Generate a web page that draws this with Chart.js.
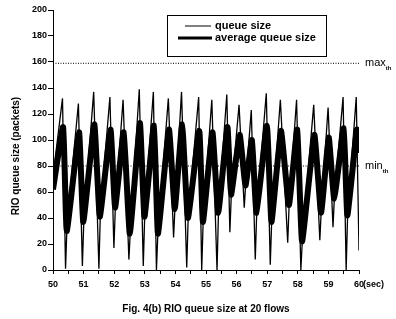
<!DOCTYPE html>
<html>
<head>
<meta charset="utf-8">
<script src="https://cdn.jsdelivr.net/npm/chart.js@4"></script>
<style>
  html, body { margin: 0; padding: 0; background: #fff; }
  #wrap { width: 396px; height: 319px; }
</style>
</head>
<body>
<div id="wrap"><canvas id="queueChart" width="396" height="319"></canvas></div>
<script>
// instantaneous queue (thin line)
const queueTime = [50.00, 50.31, 50.41, 50.46, 50.83, 50.96, 51.01, 51.33, 51.50, 51.55,
    51.86, 51.99, 52.04, 52.29, 52.48, 52.53, 52.82, 52.95, 53.00, 53.28, 53.38, 53.43,
    53.77, 53.94, 53.99, 54.20, 54.37, 54.42, 54.76, 54.86, 54.91, 55.19, 55.36, 55.41,
    55.68, 55.78, 55.83, 56.08, 56.25, 56.30, 56.48, 56.61, 56.66, 56.97, 57.10, 57.15,
    57.43, 57.67, 57.72, 57.96, 58.10, 58.15, 58.52, 58.72, 58.77, 58.99, 59.15, 59.20,
    59.48, 59.58, 59.63, 59.91, 60.00];
const queueSize = [72, 132, 1, 36, 128, 3, 40, 137, 1, 46,
    133, 17, 50, 131, 8, 32, 139, 3, 44, 137, 0, 30,
    132, 25, 50, 137, 2, 42, 133, 0, 40, 131, 0, 46,
    135, 29, 60, 127, 48, 68, 123, 8, 46, 136, 4, 40,
    131, 21, 52, 131, 0, 24, 127, 23, 48, 125, 33, 58,
    133, 0, 44, 133, 15];

// average queue (thick line)
const avgTime = [50.00, 50.33, 50.45, 50.85, 50.99, 51.35, 51.53, 51.88, 52.03, 52.31, 52.51,
    52.84, 52.99, 53.30, 53.43, 53.79, 53.98, 54.22, 54.41, 54.78, 54.90, 55.21, 55.40,
    55.70, 55.82, 56.10, 56.29, 56.50, 56.65, 56.99, 57.14, 57.45, 57.71, 57.98, 58.14,
    58.54, 58.76, 59.01, 59.19, 59.50, 59.62, 59.93, 60.00];
const avgSize = [62, 110, 30, 106, 37, 112, 41, 108, 48, 106, 28,
    113, 41, 111, 28, 108, 47, 112, 40, 107, 37, 106, 44,
    110, 58, 104, 65, 100, 44, 111, 37, 107, 50, 108, 22,
    104, 44, 102, 55, 109, 42, 108, 90];

const thresholds = [159, 80];       // max_th, min_th
const thresholdNames = ['max', 'min'];
const yTicks = [0, 20, 40, 60, 80, 100, 120, 140, 160, 180, 200];
const seriesNames = ['queue size', 'average queue size'];
const yTitle = 'RIO queue size (packets)';

const toPoints = (xs, ys) => xs.map((x, i) => ({ x: x, y: ys[i] }));

const FONT = 'Liberation Sans, Arial, sans-serif';

const extras = {
    id: 'extras',
    afterDraw(chart) {
        const c = chart.ctx;
        const xs = chart.scales.x, ys = chart.scales.y;
        c.save();
        c.fillStyle = '#000';
        c.strokeStyle = '#000';
        // y axis title
        c.save();
        c.translate(16, 156);
        c.rotate(-Math.PI / 2);
        c.font = 'bold 10px ' + FONT;
        c.textAlign = 'center';
        c.textBaseline = 'middle';
        c.fillText(yTitle, 0, 0);
        c.restore();
        // threshold labels
        thresholdNames.forEach((n, i) => {
            const y = ys.getPixelForValue(thresholds[i]);
            c.font = '11px ' + FONT;
            c.textBaseline = 'middle';
            c.fillText(n, xs.right + 6, y);
            const w = c.measureText(n).width;
            c.font = 'bold 6px ' + FONT;
            c.fillText('th', xs.right + 6 + w, y + 5);
        });
        // (sec) unit
        c.font = 'bold 9px ' + FONT;
        c.textBaseline = 'middle';
        c.fillText('(sec)', xs.right + 4, xs.top + 15);
        // legend box
        c.lineWidth = 1;
        c.strokeRect(167.5, 15.5, 159, 41);
        c.beginPath();
        c.moveTo(185, 26); c.lineTo(211, 26);
        c.stroke();
        c.lineWidth = 3;
        c.beginPath();
        c.moveTo(178, 38); c.lineTo(212, 38);
        c.stroke();
        c.font = 'bold 11px ' + FONT;
        c.fillText(seriesNames[0], 215, 26);
        c.fillText(seriesNames[1], 215, 38);
        c.restore();
    }
};

const ctx = document.getElementById('queueChart');

new Chart(ctx, {
    type: 'line',
    data: {
        datasets: [{
            label: seriesNames[0],
            data: toPoints(queueTime, queueSize),
            borderColor: '#000',
            borderWidth: 1.3,
            pointRadius: 0,
            tension: 0
        }, {
            label: seriesNames[1],
            data: toPoints(avgTime, avgSize),
            borderColor: '#000',
            borderWidth: 6,
            borderJoinStyle: 'round',
            pointRadius: 0,
            tension: 0.12
        }, {
            label: 'max',
            data: [{ x: 50, y: thresholds[0] }, { x: 60, y: thresholds[0] }],
            borderColor: '#000',
            borderWidth: 1,
            borderDash: [1, 1.5],
            pointRadius: 0
        }, {
            label: 'min',
            data: [{ x: 50, y: thresholds[1] }, { x: 60, y: thresholds[1] }],
            borderColor: '#000',
            borderWidth: 1,
            borderDash: [1, 1.5],
            pointRadius: 0
        }]
    },
    options: {
        responsive: false,
        animation: false,
        layout: { padding: { top: 10, right: 37, left: 0, bottom: 4 } },
        plugins: {
            legend: { display: false },
            tooltip: { enabled: false }
        },
        scales: {
            x: {
                type: 'linear',
                min: 50,
                max: 60,
                afterFit(s) { s.height = 45; },
                border: { color: '#000', width: 1 },
                grid: { drawOnChartArea: false, color: '#000', tickLength: 4 },
                ticks: {
                    stepSize: 0.5,
                    color: '#000',
                    font: { family: FONT, size: 9, weight: 'bold' },
                    padding: 5,
                    maxRotation: 0,
                    autoSkip: false,
                    callback: v => Number.isInteger(v) ? String(v) : ''
                },
                title: {
                    display: true,
                    text: 'Fig. 4(b) RIO queue size at 20 flows',
                    color: '#000',
                    font: { family: FONT, size: 10, weight: 'bold' },
                    padding: { top: 9, bottom: 0 }
                }
            },
            y: {
                min: 0,
                max: 200,
                afterFit(s) { s.width = 53; },
                afterBuildTicks(s) { s.ticks = yTicks.map(v => ({ value: v })); },
                border: { color: '#000', width: 1 },
                grid: { drawOnChartArea: false, color: '#000', tickLength: 5 },
                ticks: {
                    color: '#000',
                    font: { family: FONT, size: 9, weight: 'bold' },
                    padding: 1
                }
            }
        }
    },
    plugins: [extras]
});
</script>
</body>
</html>
